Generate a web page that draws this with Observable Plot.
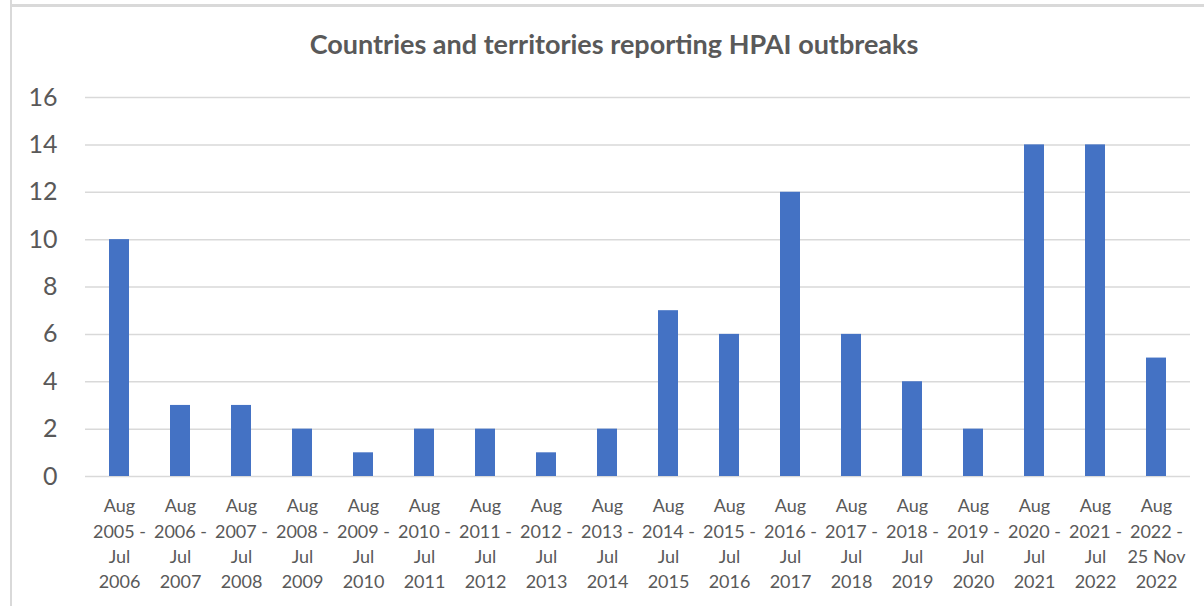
<!DOCTYPE html>
<html>
<head>
<meta charset="utf-8">
<script src="https://cdn.jsdelivr.net/npm/d3@7"></script>
<script src="https://cdn.jsdelivr.net/npm/@observablehq/plot@0.6"></script>
<style>
  html, body { margin: 0; padding: 0; background: #fff; }
  #wrap { position: relative; width: 1204px; height: 606px; overflow: hidden; font-family: Lato, "Open Sans", sans-serif; }
  #vline { position: absolute; left: 10px; top: 0; width: 2px; height: 606px; background: #d9d9d9; }
  #hline { position: absolute; left: 10px; top: 4px; width: 1194px; height: 3px; background: #d9d9d9; }
  #title { position: absolute; left: 0; width: 1228px; top: 28px; text-align: center; font-weight: bold; font-size: 27px; line-height: 32px; color: #595959; }
  #chart { position: absolute; left: 0; top: 0; }
</style>
</head>
<body>
<div id="wrap">
  <div id="chart"></div>
  <div id="vline"></div>
  <div id="hline"></div>
  <div id="title">Countries and territories reporting HPAI outbreaks</div>
</div>
<script>
const periods = [
  "Aug\n2005 -\nJul\n2006", "Aug\n2006 -\nJul\n2007", "Aug\n2007 -\nJul\n2008",
  "Aug\n2008 -\nJul\n2009", "Aug\n2009 -\nJul\n2010", "Aug\n2010 -\nJul\n2011",
  "Aug\n2011 -\nJul\n2012", "Aug\n2012 -\nJul\n2013", "Aug\n2013 -\nJul\n2014",
  "Aug\n2014 -\nJul\n2015", "Aug\n2015 -\nJul\n2016", "Aug\n2016 -\nJul\n2017",
  "Aug\n2017 -\nJul\n2018", "Aug\n2018 -\nJul\n2019", "Aug\n2019 -\nJul\n2020",
  "Aug\n2020 -\nJul\n2021", "Aug\n2021 -\nJul\n2022", "Aug\n2022 -\n25 Nov\n2022"
];
const counts = [10, 3, 3, 2, 1, 2, 2, 1, 2, 7, 6, 12, 6, 4, 2, 14, 14, 5];
const yTicks = [0, 2, 4, 6, 8, 10, 12, 14, 16];

const data = periods.map((p, i) => ({period: p, count: counts[i]}));

const chart = Plot.plot({
  width: 1204,
  height: 606,
  marginTop: 97,
  marginBottom: 130,
  marginLeft: 85,
  marginRight: 14,
  style: {fontFamily: "Lato, 'Open Sans', sans-serif", color: "#595959", background: "transparent"},
  x: {domain: periods, paddingInner: 0.68, paddingOuter: 0.34, label: null},
  y: {domain: [0, 16], label: null},
  marks: [
    Plot.ruleY(yTicks, {stroke: "#d9d9d9", strokeWidth: 1.5}),
    Plot.barY(data, {x: "period", y: "count", fill: "#4472C4"}),
    Plot.axisX({tickSize: 0, tickPadding: 18, fontSize: 18, lineHeight: 1.4, fill: "#595959"}),
    Plot.axisY({ticks: yTicks, tickSize: 0, tickPadding: 28, fontSize: 25, fill: "#595959"})
  ]
});
document.getElementById("chart").appendChild(chart);
</script>
</body>
</html>
